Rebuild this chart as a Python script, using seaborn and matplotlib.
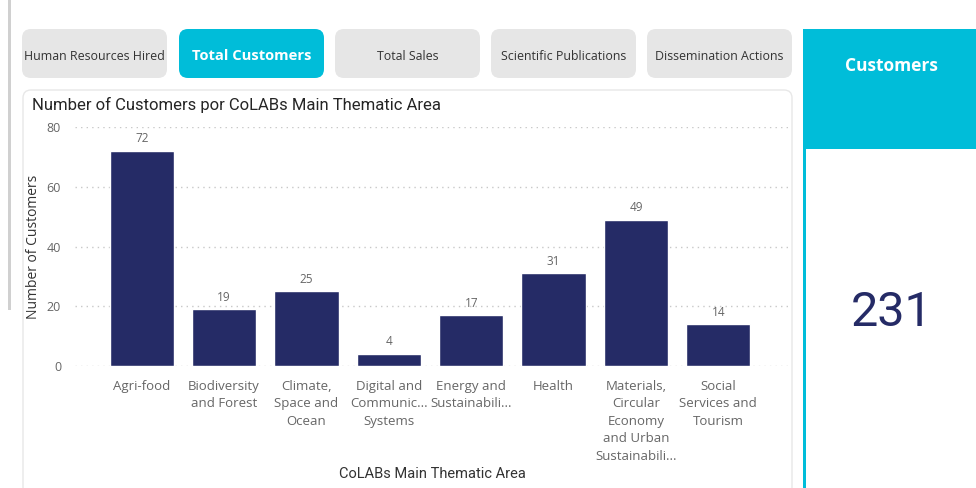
import matplotlib.pyplot as plt
import seaborn as sns
import pandas as pd
from matplotlib.patches import FancyBboxPatch, Rectangle

# data
areas = [
    "Agri-food",
    "Biodiversity\nand Forest",
    "Climate,\nSpace and\nOcean",
    "Digital and\nCommunic...\nSystems",
    "Energy and\nSustainabili...",
    "Health",
    "Materials,\nCircular\nEconomy\nand Urban\nSustainabili...",
    "Social\nServices and\nTourism",
]
customers = [72, 19, 25, 4, 17, 31, 49, 14]
y_ticks = [0, 20, 40, 60, 80]
buttons = ["Human Resources Hired", "Total Customers", "Total Sales",
           "Scientific Publications", "Dissemination Actions"]
active_button = "Total Customers"
card_title = "Customers"
total_customers = sum(customers)

NAVY = "#252B66"
CYAN = "#00BDD9"
GREY_TXT = "#666666"

sns.set_style("white")
plt.rcParams["font.family"] = ["Open Sans", "DejaVu Sans"]

W, H = 976, 488
fig = plt.figure(figsize=(W / 100, H / 100), dpi=100)
fig.patch.set_facecolor("white")

# background layer in pixel coordinates
bg = fig.add_axes([0, 0, 1, 1], zorder=0)
bg.set_xlim(0, W)
bg.set_ylim(H, 0)
bg.axis("off")

bg.add_patch(Rectangle((8, 0), 3, 310, color="#D0D0D0", lw=0))

bx = [22, 179, 335, 491, 647]
for x0, name in zip(bx, buttons):
    on = name == active_button
    bg.add_patch(FancyBboxPatch((x0, 29), 145, 49,
                                boxstyle="round,pad=0,rounding_size=9",
                                fc=CYAN if on else "#E6E6E6", ec="none"))
    bg.text(x0 + 72.5, 56.5, name, ha="center", va="center",
            fontsize=10.6 if on else 8.9,
            fontweight="bold" if on else "normal",
            color="white" if on else "#333333")

# chart card
bg.add_patch(FancyBboxPatch((23, 90), 769, 405,
                            boxstyle="round,pad=0,rounding_size=8",
                            fc="white", ec="#E8E8E8", lw=1))
bg.text(32, 105, "Number of Customers por CoLABs Main Thematic Area",
        ha="left", va="center", fontsize=12, color="#252525",
        family=["Roboto", "DejaVu Sans"])

# KPI card
bg.add_patch(Rectangle((803, 29), 173, 120, color=CYAN, lw=0))
bg.add_patch(Rectangle((803, 148), 3, 340, color=CYAN, lw=0))
bg.text(891, 66, card_title, ha="center", va="center", fontsize=12.5,
        fontweight="bold", color="white")
bg.text(892, 313, f"{total_customers}", ha="center", va="center",
        fontsize=35, color=NAVY, family=["Roboto", "DejaVu Sans"])

# bar chart
ax = fig.add_axes([75 / W, 1 - 366 / H, (790 - 75) / W, (366 - 127) / H], zorder=1)
ax.patch.set_alpha(0)
df = pd.DataFrame({"area": areas, "customers": customers})
sns.barplot(data=df, x="area", y="customers", color=NAVY, width=0.78,
            saturation=1, ax=ax, zorder=2)
ax.bar_label(ax.containers[0], padding=4, fontsize=8.5, color=GREY_TXT)

ax.set_xlim(-0.81, 7.87)
ax.set_ylim(0, 80)
ax.set_yticks(y_ticks)
ax.yaxis.grid(True, linestyle=(0, (1, 3)), color="#C8C8C8", lw=1)
ax.set_axisbelow(True)
for s in ax.spines.values():
    s.set_visible(False)
ax.tick_params(axis="both", length=0, colors=GREY_TXT, labelsize=9)
ax.tick_params(axis="y", pad=10)
ax.tick_params(axis="x", pad=10, labelsize=9.5)
for lbl in ax.get_xticklabels():
    lbl.set_linespacing(1.45)
ax.set_xlabel("CoLABs Main Thematic Area", fontsize=10.5, color="#333333",
              family=["Roboto", "DejaVu Sans"], labelpad=3)
ax.set_ylabel("Number of Customers", fontsize=10, color="#333333", labelpad=4)

fig.savefig("out.png", dpi=100, facecolor="white")
